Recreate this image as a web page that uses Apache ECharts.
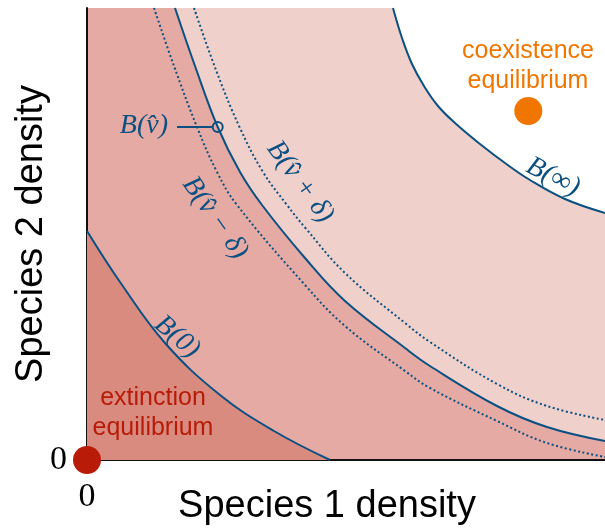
<!DOCTYPE html>
<html>
<head>
<meta charset="utf-8">
<script src="https://cdn.jsdelivr.net/npm/echarts@6/dist/echarts.min.js"></script>
<style>html,body{margin:0;padding:0;background:#fff}#c{width:605px;height:528px}</style>
</head>
<body>
<div id="c"></div>
<script>
// Boundary curves, [species 1, species 2] in plot units
const curveB0      = [[0,2.29],[0.33,1.78],[0.78,1.17],[1.33,0.65],[1.87,0.29],[2.43,0]];
const curveBvhat   = [[0.88,4.52],[1.08,3.94],[1.307,3.33],[1.53,2.88],[1.75,2.55],[2.18,2.02],[2.58,1.59],[3.18,1.12],[3.43,0.94],[4.10,0.54],[4.60,0.33],[5.18,0.19]];
const curveBminus  = [[0.67,4.52],[0.87,3.94],[1.10,3.33],[1.30,2.88],[1.50,2.55],[2.18,1.75],[2.58,1.34],[3.18,0.89],[3.43,0.72],[4.10,0.39],[4.60,0.17],[5.18,0.03]];
const curveBplus   = [[1.07,4.52],[1.29,3.90],[1.525,3.33],[1.76,2.88],[2.00,2.55],[2.18,2.325],[2.58,1.87],[3.18,1.37],[3.43,1.18],[4.10,0.76],[4.60,0.54],[5.18,0.40]];
const curveBinf    = [[3.06,4.52],[3.15,4.22],[3.25,3.96],[3.37,3.74],[3.51,3.54],[3.68,3.37],[3.93,3.16],[4.18,2.97],[4.43,2.80],[4.78,2.61],[5.18,2.47]];
const vhatMarker   = [[1.307,3.33]];
const vhatLeader   = [[0.90,3.33],[1.255,3.33]];
const extinctionPt = [[0,0]];
const coexistPt    = [[4.413,3.49]];
const axisTicks    = [0];
const xMax = 5.18, yMax = 4.52;

const BLUE = '#0b5082', DARK = '#d98b80', MID = '#e4aaa3', LIGHT = '#f0d0cb';
const RED = '#b81c08', ORANGE = '#f07600';
const mathFont = 'italic 28px "Liberation Serif", "DejaVu Serif", serif';

const chart = echarts.init(document.getElementById('c'), null, {renderer: 'canvas'});
chart.setOption({
  animation: false,
  grid: {left: 87, right: 0, top: 8, bottom: 68, containLabel: false, outerBoundsMode: 'none',
         show: true, backgroundColor: MID, borderWidth: 0},
  xAxis: {
    type: 'value', min: 0, max: xMax,
    axisLine: {show: true, lineStyle: {color: '#111', width: 2}},
    axisTick: {show: false}, splitLine: {show: false},
    axisLabel: {customValues: axisTicks, margin: 20, fontFamily: 'Liberation Serif', fontSize: 34, color: '#000'},
    name: 'Species 1 density', nameLocation: 'middle', nameGap: 28, nameMoveOverlap: false,
    nameTextStyle: {fontFamily: 'Liberation Sans', fontSize: 38, color: '#000', padding: [0, 38, 0, 0]}
  },
  yAxis: {
    type: 'value', min: 0, max: yMax,
    axisLine: {show: true, lineStyle: {color: '#111', width: 2}},
    axisTick: {show: false}, splitLine: {show: false},
    axisLabel: {customValues: axisTicks, margin: 20, fontFamily: 'Liberation Serif', fontSize: 34, color: '#000'},
    name: 'Species 2 density', nameLocation: 'middle', nameGap: 36, nameRotate: 90, nameMoveOverlap: false,
    nameTextStyle: {fontFamily: 'Liberation Sans', fontSize: 38, color: '#000'}
  },
  series: [
    {type: 'line', data: curveBvhat, smooth: 0.4, symbol: 'none',
     lineStyle: {color: BLUE, width: 2}, areaStyle: {color: LIGHT, opacity: 1, origin: 'end'}},
    {type: 'line', data: curveBinf, smooth: 0.4, symbol: 'none',
     lineStyle: {color: BLUE, width: 2}, areaStyle: {color: '#ffffff', opacity: 1, origin: 'end'}},
    {type: 'line', data: curveB0, smooth: 0.4, symbol: 'none',
     lineStyle: {color: BLUE, width: 2}, areaStyle: {color: DARK, opacity: 1, origin: 'start'}},
    {type: 'line', data: curveBminus, smooth: 0.4, symbol: 'none',
     lineStyle: {color: BLUE, width: 2, type: [2, 2.5]}},
    {type: 'line', data: curveBplus, smooth: 0.4, symbol: 'none',
     lineStyle: {color: BLUE, width: 2, type: [2, 2.5]}},
    {type: 'line', data: vhatLeader, symbol: 'none', lineStyle: {color: BLUE, width: 2}},
    {type: 'scatter', data: vhatMarker, symbol: 'circle', symbolSize: 10, z: 10,
     itemStyle: {color: 'rgba(0,0,0,0)', borderColor: BLUE, borderWidth: 2, opacity: 1}},
    {type: 'scatter', data: extinctionPt, symbolSize: 28, clip: false, itemStyle: {color: RED, opacity: 1}, z: 10},
    {type: 'scatter', data: coexistPt, symbolSize: 28, clip: false, itemStyle: {color: ORANGE, opacity: 1}, z: 10}
  ],
  graphic: [
    {type: 'text', x: 153, y: 413, z: 100, style: {text: 'extinction\nequilibrium', align: 'center', verticalAlign: 'middle',
      lineHeight: 30, font: '25px "Liberation Sans", Arial, sans-serif', fill: RED}},
    {type: 'text', x: 528, y: 66, z: 100, style: {text: 'coexistence\nequilibrium', align: 'center', verticalAlign: 'middle',
      lineHeight: 30, font: '25px "Liberation Sans", Arial, sans-serif', fill: ORANGE}},
    {type: 'text', x: 168, y: 126, z: 100, style: {text: 'B(v\u0302)', align: 'right', verticalAlign: 'middle', font: mathFont, fill: BLUE}},
    {type: 'text', x: 215, y: 218, rotation: -0.96, z: 100, style: {text: 'B(v\u0302 \u2212 \u03b4)', align: 'center', verticalAlign: 'middle', font: mathFont, fill: BLUE}},
    {type: 'text', x: 300, y: 182, rotation: -0.94, z: 100, style: {text: 'B(v\u0302 + \u03b4)', align: 'center', verticalAlign: 'middle', font: mathFont, fill: BLUE}},
    {type: 'text', x: 177, y: 337, rotation: -0.70, z: 100, style: {text: 'B(0)', align: 'center', verticalAlign: 'middle', font: mathFont, fill: BLUE}},
    {type: 'text', x: 553, y: 177, rotation: -0.47, z: 100, style: {text: 'B(\u221e)', align: 'center', verticalAlign: 'middle', font: mathFont, fill: BLUE}}
  ]
});
</script>
</body>
</html>
